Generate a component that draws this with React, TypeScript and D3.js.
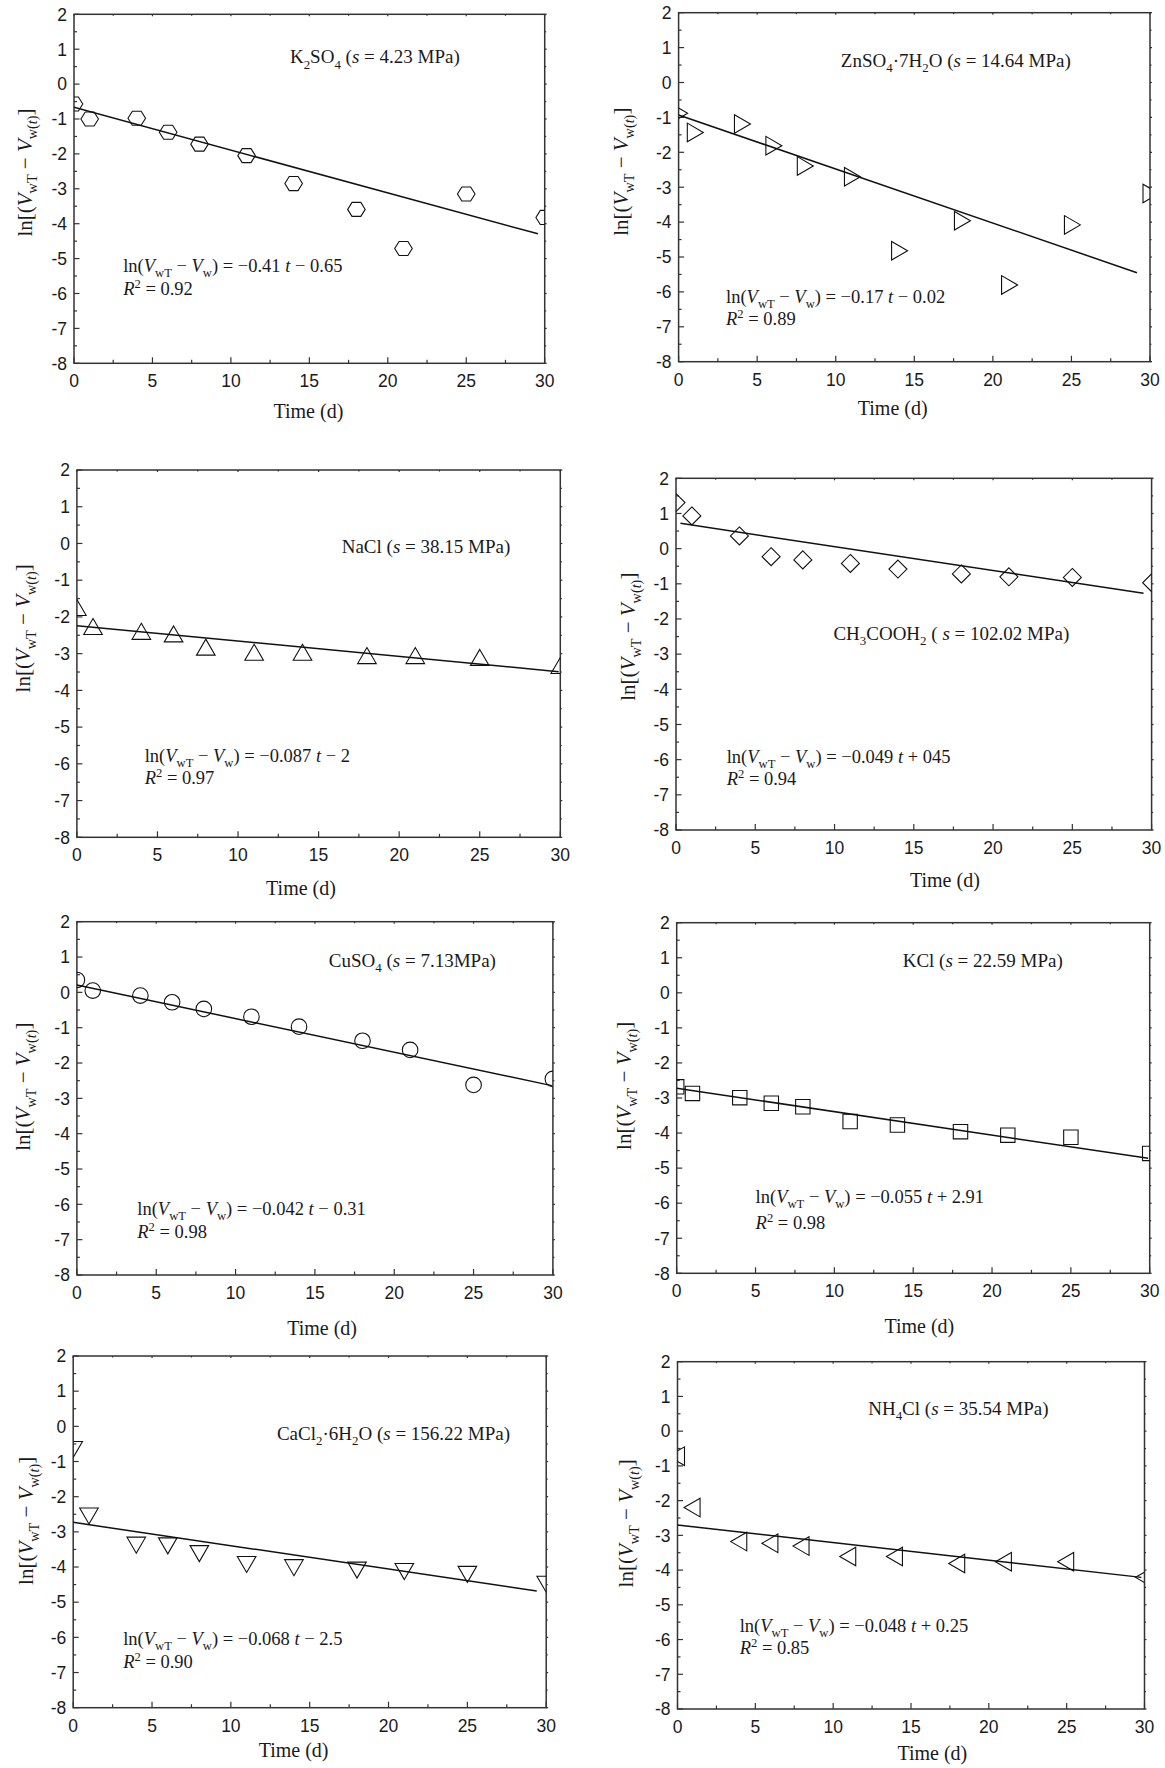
import React from 'react';
import * as d3 from 'd3';

// ---------- data ----------
const times = [0, 1, 4, 6, 8, 11, 14, 18, 21, 25, 30];
const xTicks = [0, 5, 10, 15, 20, 25, 30];
const yTicks = [2, 1, 0, -1, -2, -3, -4, -5, -6, -7, -8];

const k2so4Values = [-0.57, -1.0, -0.98, -1.38, -1.72, -2.05, -2.85, -3.59, -4.71, -3.15, -3.82];
const znso4Values = [-0.88, -1.43, -1.19, -1.81, -2.39, -2.7, -4.82, -3.96, -5.8, -4.08, -3.18];
const naclValues = [-1.77, -2.29, -2.42, -2.49, -2.85, -2.99, -2.99, -3.08, -3.08, -3.13, -3.35];
const ch3coohValues = [1.31, 0.93, 0.36, -0.23, -0.32, -0.42, -0.58, -0.72, -0.8, -0.82, -0.97];
const cuso4Values = [0.35, 0.05, -0.09, -0.28, -0.47, -0.69, -0.97, -1.37, -1.63, -2.62, -2.45];
const kclValues = [-2.68, -2.87, -2.99, -3.15, -3.25, -3.67, -3.77, -3.96, -4.06, -4.12, -4.58];
const cacl2Values = [-0.63, -2.52, -3.35, -3.37, -3.59, -3.9, -3.99, -4.06, -4.1, -4.18, -4.46];
const nh4clValues = [-0.72, -2.2, -3.18, -3.23, -3.31, -3.61, -3.61, -3.81, -3.76, -3.76, -4.21];

// fitted line end points (t, value)
const fitStartT = [0, 0, 0, 0.28, 0, 0, 0, 0];
const fitStartV = [-0.665, -0.93, -2.24, 0.72, 0.21, -2.72, -2.73, -2.7];
const fitEndT = [29.57, 29.17, 29.9, 29.49, 29.93, 29.9, 29.4, 29.8];
const fitEndV = [-4.29, -5.45, -3.49, -1.27, -2.64, -4.72, -4.68, -4.21];

const eqTerms = ['= \u22120.41 ', '= \u22120.17 ', '= \u22120.087 ', '= \u22120.049 ', '= \u22120.042 ', '= \u22120.055 ', '= \u22120.068 ', '= \u22120.048 '];
const eqTails = [' \u2212 0.65', ' \u2212 0.02', ' \u2212 2', ' + 045', ' \u2212 0.31', ' + 2.91', ' \u2212 2.5', ' + 0.25'];
const r2Values = ['0.92', '0.89', '0.97', '0.94', '0.98', '0.98', '0.90', '0.85'];

type Seg = { t: string; it?: boolean; sub?: boolean; sup?: boolean };

const titles: Seg[][] = [
  [{ t: 'K' }, { t: '2', sub: true }, { t: 'SO' }, { t: '4', sub: true }, { t: ' (' }, { t: 's', it: true }, { t: ' = 4.23 MPa)' }],
  [{ t: 'ZnSO' }, { t: '4', sub: true }, { t: '\u00b77H' }, { t: '2', sub: true }, { t: 'O (' }, { t: 's', it: true }, { t: ' = 14.64 MPa)' }],
  [{ t: 'NaCl (' }, { t: 's', it: true }, { t: ' = 38.15 MPa)' }],
  [{ t: 'CH' }, { t: '3', sub: true }, { t: 'COOH' }, { t: '2', sub: true }, { t: ' ( ' }, { t: 's', it: true }, { t: ' = 102.02 MPa)' }],
  [{ t: 'CuSO' }, { t: '4', sub: true }, { t: ' (' }, { t: 's', it: true }, { t: ' = 7.13MPa)' }],
  [{ t: 'KCl (' }, { t: 's', it: true }, { t: ' = 22.59 MPa)' }],
  [{ t: 'CaCl' }, { t: '2', sub: true }, { t: '\u00b76H' }, { t: '2', sub: true }, { t: 'O (' }, { t: 's', it: true }, { t: ' = 156.22 MPa)' }],
  [{ t: 'NH' }, { t: '4', sub: true }, { t: 'Cl (' }, { t: 's', it: true }, { t: ' = 35.54 MPa)' }],
];

const seriesValues = [k2so4Values, znso4Values, naclValues, ch3coohValues, cuso4Values, kclValues, cacl2Values, nh4clValues];
const markerShapes = ['hexagon', 'triRight', 'triUp', 'diamond', 'circle', 'square', 'triDown', 'triLeft'];

// ---------- layout ----------
const layout = [
  { frame: [74, 544.7, 14.3, 363.3], title: [289.9, 63.3], eq: [123.2, 271.7, 295], xl: [308.4, 418.3], yl: [25, 172.5] },
  { frame: [678.6, 1150, 12.7, 361.7], title: [840.8, 66.7], eq: [726, 303.3, 325], xl: [892.7, 415], yl: [621.2, 171.7] },
  { frame: [76.9, 560.3, 470, 837.3], title: [341.7, 553.3], eq: [144.7, 761.7, 784], xl: [301, 895], yl: [23.2, 628.3] },
  { frame: [676, 1151.6, 478.3, 830], title: [833.4, 640], eq: [726.7, 763.3, 785], xl: [944.9, 886.7], yl: [628.6, 636.7] },
  { frame: [76.9, 552.9, 921.7, 1275], title: [328.8, 966.7], eq: [137.3, 1215, 1238.3], xl: [322.1, 1335], yl: [23.2, 1086.7] },
  { frame: [676.7, 1149.7, 922.7, 1273.3], title: [902.7, 966.7], eq: [755.6, 1203.3, 1229.3], xl: [919.3, 1333.3], yl: [624.9, 1085.8] },
  { frame: [73.2, 546.2, 1356, 1707.7], title: [276.9, 1440], eq: [123.2, 1645, 1668.3], xl: [293.6, 1756.7], yl: [26.2, 1520.8] },
  { frame: [677.5, 1144.5, 1361.7, 1709], title: [868.2, 1415], eq: [739.7, 1631.7, 1654], xl: [932.3, 1760], yl: [626.7, 1523.3] },
];

const SERIF = '"Liberation Serif", "Times New Roman", Times, serif';
const SANS = '"Liberation Sans", Arial, Helvetica, sans-serif';
const INK = '#1a1a1a';
const FRAME = '#333';

function Rich({ segs, size, ...rest }: any) {
  let shift = 0;
  const spans = segs.map((s: Seg, i: number) => {
    const target = s.sub ? size * 0.28 : s.sup ? -size * 0.4 : 0;
    const dy = target - shift;
    shift = target;
    return (
      <tspan key={i} dy={dy} fontSize={s.sub || s.sup ? size * 0.68 : size} fontStyle={s.it ? 'italic' : 'normal'}>
        {s.t}
      </tspan>
    );
  });
  return (
    <text {...rest} fontSize={size} fontFamily={SERIF} fill={INK} style={{ whiteSpace: 'pre' }}>
      {spans}
    </text>
  );
}

function poly(pts: number[][]) {
  return 'M' + pts.map((p) => p[0].toFixed(2) + ',' + p[1].toFixed(2)).join('L') + 'Z';
}

function markerPath(shape: string) {
  switch (shape) {
    case 'hexagon': {
      const r = 8.8;
      return poly(d3.range(6).map((k) => [r * Math.cos((k * Math.PI) / 3), r * 0.92 * Math.sin((k * Math.PI) / 3)]));
    }
    case 'triUp':
      return poly([[0, -9], [9.3, 7], [-9.3, 7]]);
    case 'triDown':
      return poly([[0, 9], [9.3, -7], [-9.3, -7]]);
    case 'triRight':
      return poly([[9, 0], [-7, 9.3], [-7, -9.3]]);
    case 'triLeft':
      return poly([[-9, 0], [7, 9.3], [7, -9.3]]);
    case 'diamond':
      return poly([[0, -9], [9, 0], [0, 9], [-9, 0]]);
    case 'square':
      return poly([[-7.2, -7.2], [7.2, -7.2], [7.2, 7.2], [-7.2, 7.2]]);
    default:
      return null;
  }
}

function Panel({ idx }: { idx: number }) {
  const L = layout[idx];
  const [x0, x1, y0, y1] = L.frame;
  const x = d3.scaleLinear().domain([0, 30]).range([x0, x1]);
  const y = d3.scaleLinear().domain([-8, 2]).range([y1, y0]);
  const vals = seriesValues[idx];
  const shape = markerShapes[idx];
  const clipId = 'clip' + idx;
  const xMinor = d3.range(0, 30.001, 2.5).filter((v) => v % 5 !== 0);
  const yMinor = d3.range(-8, 2.001, 0.5).filter((v) => v % 1 !== 0);
  const lineGen = d3.line<number[]>().x((d) => x(d[0])).y((d) => y(d[1]));
  const fit = lineGen([
    [fitStartT[idx], fitStartV[idx]],
    [fitEndT[idx], fitEndV[idx]],
  ]);
  const mp = markerPath(shape);

  const eqSegs: Seg[] = [
    { t: 'ln(' },
    { t: 'V', it: true },
    { t: 'wT', sub: true },
    { t: ' \u2212 ' },
    { t: 'V', it: true },
    { t: 'w', sub: true },
    { t: ') ' + eqTerms[idx] },
    { t: 't', it: true },
    { t: eqTails[idx] },
  ];
  const r2Segs: Seg[] = [{ t: 'R', it: true }, { t: '2', sup: true }, { t: ' = ' + r2Values[idx] }];
  const ylSegs: Seg[] = [
    { t: 'ln[(' },
    { t: 'V', it: true },
    { t: 'wT', sub: true },
    { t: ' \u2212 ' },
    { t: 'V', it: true },
    { t: 'w(', sub: true },
    { t: 't', sub: true, it: true },
    { t: ')', sub: true },
    { t: ']' },
  ];

  return (
    <g>
      <defs>
        <clipPath id={clipId}>
          <rect x={x0} y={y0} width={x1 - x0} height={y1 - y0} />
        </clipPath>
      </defs>
      {/* ticks */}
      <g stroke={FRAME} strokeWidth={1.2}>
        {xTicks.map((t) => (
          <g key={'xt' + t}>
            <line x1={x(t)} x2={x(t)} y1={y1} y2={y1 - 6} />
            <line x1={x(t)} x2={x(t)} y1={y0} y2={y0 + 2} />
          </g>
        ))}
        {xMinor.map((t) => (
          <g key={'xm' + t}>
            <line x1={x(t)} x2={x(t)} y1={y1} y2={y1 - 3.5} />
            <line x1={x(t)} x2={x(t)} y1={y0} y2={y0 + 1.5} />
          </g>
        ))}
        {yTicks.map((v) => (
          <g key={'yt' + v}>
            <line x1={x0} x2={x0 + 5.5} y1={y(v)} y2={y(v)} />
            <line x1={x1} x2={x1 + 2} y1={y(v)} y2={y(v)} />
          </g>
        ))}
        {yMinor.map((v) => (
          <g key={'ym' + v}>
            <line x1={x0} x2={x0 + 3} y1={y(v)} y2={y(v)} />
            <line x1={x1} x2={x1 + 1.5} y1={y(v)} y2={y(v)} />
          </g>
        ))}
      </g>
      <rect x={x0} y={y0} width={x1 - x0} height={y1 - y0} fill="none" stroke={FRAME} strokeWidth={1.5} />
      {/* tick labels */}
      <g fontFamily={SANS} fontSize={17.5} fill={INK}>
        {xTicks.map((t) => (
          <text key={'xl' + t} x={x(t)} y={y1 + 24} textAnchor="middle">
            {String(t)}
          </text>
        ))}
        {yTicks.map((v) => (
          <text key={'yl' + v} x={x0 - 7} y={y(v)} dy="0.36em" textAnchor="end">
            {String(v)}
          </text>
        ))}
      </g>
      {/* data */}
      <g clipPath={`url(#${clipId})`}>
        <path d={fit || ''} fill="none" stroke="#111" strokeWidth={1.5} />
        {times.map((t, i) =>
          shape === 'circle' ? (
            <circle key={i} cx={x(t)} cy={y(vals[i])} r={7.8} fill="none" stroke="#111" strokeWidth={1.1} />
          ) : (
            <path key={i} d={mp || ''} transform={`translate(${x(t)},${y(vals[i])})`} fill="none" stroke="#111" strokeWidth={1.1} />
          )
        )}
      </g>
      {/* annotations */}
      <Rich segs={titles[idx]} size={19} x={L.title[0]} y={L.title[1]} />
      <Rich segs={eqSegs} size={18.5} x={L.eq[0]} y={L.eq[1]} />
      <Rich segs={r2Segs} size={18.5} x={L.eq[0]} y={L.eq[2]} />
      <text x={L.xl[0]} y={L.xl[1]} textAnchor="middle" fontFamily={SERIF} fontSize={20} fill={INK}>
        Time (d)
      </text>
      <Rich segs={ylSegs} size={21} transform={`translate(${L.yl[0]},${L.yl[1]}) rotate(-90)`} textAnchor="middle" y={6.5} x={0} />
    </g>
  );
}

export default function App() {
  return (
    <svg
      width={1165}
      height={1768}
      viewBox="0 0 1165 1768"
      style={{ position: 'absolute', left: 0, top: 0, display: 'block', background: '#fff' }}
    >
      <rect x={0} y={0} width={1165} height={1768} fill="#fff" />
      {layout.map((_, i) => (
        <Panel key={i} idx={i} />
      ))}
    </svg>
  );
}
